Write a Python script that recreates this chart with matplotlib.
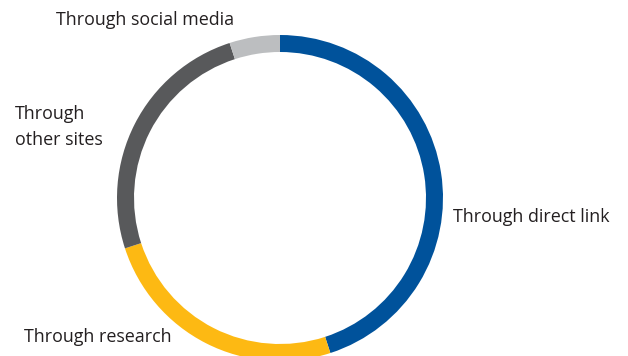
import matplotlib.pyplot as plt

# traffic sources, clockwise from the top
sources = ["Through direct link", "Through research", "Through other sites", "Through social media"]
shares = [45, 25, 25, 5]
colors = ["#00529B", "#FDB913", "#58595B", "#BCBEC0"]

plt.rcParams["font.family"] = ["Open Sans", "DejaVu Sans"]

W, H = 628, 356
fig = plt.figure(figsize=(W / 100, H / 100), dpi=100)
ax = fig.add_axes([0, 0, 1, 1])

# pixel-style coordinates, y measured from the bottom
ax.pie(shares, colors=colors, startangle=90, counterclock=False,
       center=(280, H - 198), radius=163, frame=True,
       wedgeprops=dict(width=17, linewidth=0))
ax.set_xlim(0, W)
ax.set_ylim(0, H)
ax.set_aspect("equal")
ax.axis("off")

txt = dict(fontsize=12.9, color="#231F20", va="center", ha="left")
ax.text(453, H - 217, "Through direct link", **txt)
ax.text(24, H - 337, "Through research", **txt)
ax.text(15, H - 127, "Through\nother sites", linespacing=1.62, **txt)
ax.text(56, H - 20, "Through social media", **txt)

fig.savefig("out.png", dpi=100)
